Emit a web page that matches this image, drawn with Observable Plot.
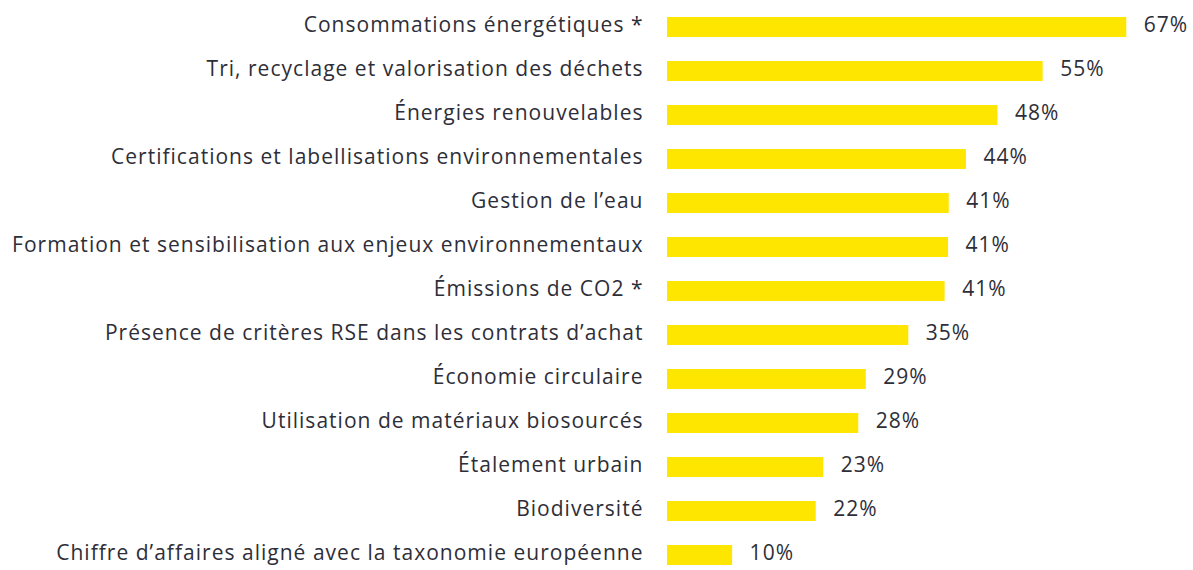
<!DOCTYPE html>
<html>
<head>
<meta charset="utf-8">
<script src="https://cdn.jsdelivr.net/npm/d3@7"></script>
<script src="https://cdn.jsdelivr.net/npm/@observablehq/plot@0.6"></script>
<style>
  html, body { margin: 0; padding: 0; background: #fff; }
  #chart svg { display: block; }
  #chart svg text { letter-spacing: 1.02px; }
</style>
</head>
<body>
<div id="chart"></div>
<script>
const categories = [
  "Consommations énergétiques *",
  "Tri, recyclage et valorisation des déchets",
  "Énergies renouvelables",
  "Certifications et labellisations environnementales",
  "Gestion de l’eau",
  "Formation et sensibilisation aux enjeux environnementaux",
  "Émissions de CO2 *",
  "Présence de critères RSE dans les contrats d’achat",
  "Économie circulaire",
  "Utilisation de matériaux biosourcés",
  "Étalement urbain",
  "Biodiversité",
  "Chiffre d’affaires aligné avec la taxonomie européenne"
];
const values = [67.0, 54.8, 48.2, 43.6, 41.1, 41.0, 40.5, 35.2, 29.0, 27.9, 22.8, 21.7, 9.5];
const labels = ["67%", "55%", "48%", "44%", "41%", "41%", "41%", "35%", "29%", "28%", "23%", "22%", "10%"];

const data = categories.map((c, i) => ({category: c, value: values[i], label: labels[i]}));

const FONT = "'Open Sans', sans-serif";
const TEXT = "#2e2e38";

const chart = Plot.plot({
  width: 1193,
  height: 570,
  marginLeft: 667,
  marginRight: 0,
  marginTop: 13,
  marginBottom: 0,
  style: {fontFamily: FONT, fontSize: "21px", color: TEXT, background: "#fff", fontWeight: 370},
  x: {domain: [0, 76.73], axis: null},
  y: {domain: categories, paddingInner: 0.537, paddingOuter: 0, label: null},
  marks: [
    Plot.axisY({tickSize: 0, tickPadding: 24, fontSize: 21, fill: TEXT, label: null, dy: -2}),
    Plot.barX(data, {x: "value", y: "category", fill: "#ffe600"}),
    Plot.text(data, {x: "value", y: "category", text: "label", textAnchor: "start", dx: 17, dy: -2, fontSize: 21, fill: TEXT})
  ]
});
document.getElementById("chart").appendChild(chart);
</script>
</body>
</html>
